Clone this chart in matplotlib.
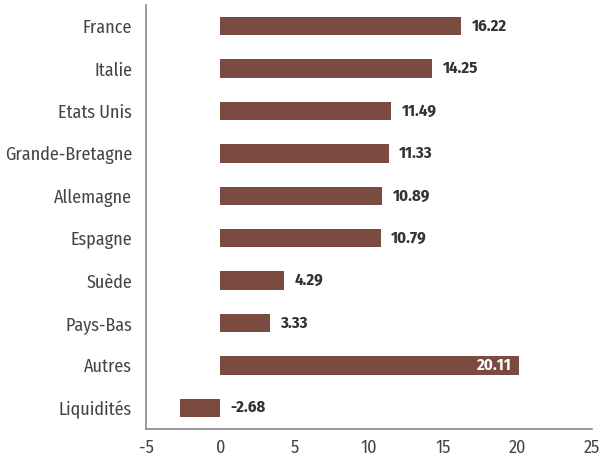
import matplotlib
matplotlib.use("Agg")
import matplotlib.pyplot as plt

categories = ["France", "Italie", "Etats Unis", "Grande-Bretagne", "Allemagne",
              "Espagne", "Suède", "Pays-Bas", "Autres", "Liquidités"]
values = [16.22, 14.25, 11.49, 11.33, 10.89, 10.79, 4.29, 3.33, 20.11, -2.68]
xticks = [-5, 0, 5, 10, 15, 20, 25]

plt.rcParams["font.family"] = ["Fira Sans Condensed", "DejaVu Sans"]

bar_color = "#7B4A40"
text_color = "#444444"
fig = plt.figure(figsize=(6.05, 4.59), dpi=100)
ax = fig.add_axes([146 / 605, 1 - 429 / 459, (592 - 146) / 605, (429 - 5) / 459])

y = list(range(len(categories)))
ax.barh(y, values, height=0.43, color=bar_color)
ax.set_ylim(len(categories) - 0.5, -0.5)
ax.set_xlim(-5, 25)
ax.set_yticks(y)
ax.set_yticklabels(categories, fontsize=13, color=text_color)
ax.set_xticks(xticks)
ax.set_xticklabels([str(t) for t in xticks], fontsize=13, color=text_color)
ax.tick_params(axis="both", length=0)
ax.tick_params(axis="x", pad=7)
ax.tick_params(axis="y", pad=10)
for s in ["top", "right"]:
    ax.spines[s].set_visible(False)
for s in ["left", "bottom"]:
    ax.spines[s].set_color("#8a8a8a")
    ax.spines[s].set_linewidth(1.2)

for yi, v in zip(y, values):
    if v > 19:
        ax.text(v - 0.5, yi, f"{v:.2f}", ha="right", va="center", fontsize=12,
                fontweight="bold", color="white")
    else:
        ax.text(max(v, 0) + 0.7, yi, f"{v:.2f}", ha="left", va="center", fontsize=12,
                fontweight="bold", color="#333333")

fig.savefig("out.png", dpi=100)
